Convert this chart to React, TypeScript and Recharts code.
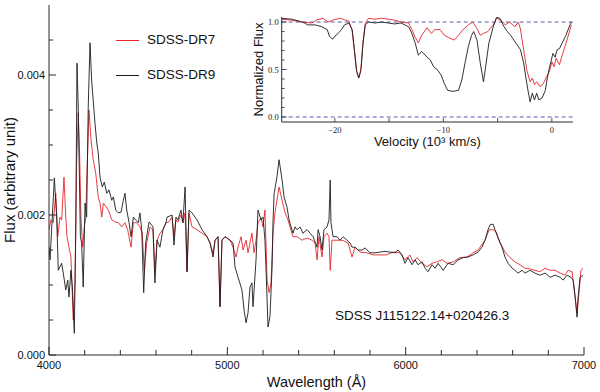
import React from 'react';
import { LineChart, Line, XAxis, YAxis, Label, Legend, ReferenceLine } from 'recharts';

// spectra: [wavelength (Å), flux in units of 1e-3]
const dr7Spectrum: number[][] = [
  [4000, 1.79], [4011, 1.93], [4024, 1.89], [4038, 2.31], [4049, 1.69], [4062, 1.97], [4071, 1.93],
  [4084, 2.54], [4094, 1.97], [4101, 1.69], [4112, 1.54], [4123, 1.4], [4136, 0.5], [4146, 1.03],
  [4155, 2.74], [4164, 3.46], [4172, 2.83], [4179, 1.97], [4189, 1.54], [4198, 1.83], [4206, 1.97],
  [4213, 2.6], [4224, 3.5], [4236, 3.07], [4248, 2.79], [4262, 2.6], [4276, 2.26], [4286, 2.17],
  [4296, 1.97], [4305, 2.17], [4314, 2.14], [4333, 2.07], [4352, 1.93], [4370, 1.9], [4389, 1.89],
  [4408, 1.83], [4426, 1.89], [4441, 1.79], [4460, 1.54], [4473, 1.89], [4492, 1.89], [4510, 1.83],
  [4523, 1.74], [4534, 1.21], [4548, 1.6], [4566, 1.83], [4583, 1.79], [4594, 1.21], [4606, 1.64],
  [4622, 1.74], [4639, 1.79], [4656, 1.89], [4672, 1.9], [4690, 1.97], [4701, 1.7], [4712, 1.93],
  [4723, 1.9], [4740, 2.0], [4751, 1.89], [4763, 2.03], [4774, 1.19], [4785, 2.03], [4802, 1.83],
  [4830, 1.79], [4858, 1.74], [4886, 1.69], [4903, 1.6], [4920, 1.45], [4931, 1.64], [4948, 1.69],
  [4959, 0.69], [4970, 1.64], [4987, 1.69], [5015, 1.64], [5032, 1.54], [5049, 1.4], [5060, 1.54],
  [5077, 1.69], [5088, 1.5], [5105, 1.64], [5116, 1.46], [5127, 1.6], [5138, 1.74], [5150, 1.46],
  [5161, 1.64], [5172, 1.89], [5189, 1.96], [5200, 1.83], [5211, 2.07], [5223, 1.07], [5234, 0.89],
  [5245, 1.03], [5256, 1.74], [5267, 2.03], [5278, 2.21], [5290, 2.4], [5307, 2.21], [5324, 2.03],
  [5340, 1.93], [5368, 1.69], [5391, 1.69], [5419, 1.64], [5447, 1.67], [5475, 1.64], [5492, 1.6],
  [5503, 1.36], [5514, 1.69], [5531, 1.4], [5542, 1.69], [5559, 1.74], [5570, 1.69], [5577, 1.21],
  [5587, 1.64], [5615, 1.64], [5643, 1.64], [5677, 1.6], [5699, 1.4], [5716, 1.54], [5744, 1.47],
  [5783, 1.46], [5817, 1.43], [5856, 1.43], [5893, 1.43], [5929, 1.47], [5968, 1.46], [5996, 1.36],
  [6024, 1.43], [6041, 1.33], [6064, 1.39], [6092, 1.31], [6120, 1.26], [6148, 1.31], [6176, 1.33],
  [6204, 1.36], [6232, 1.31], [6266, 1.33], [6305, 1.39], [6344, 1.4], [6378, 1.46], [6406, 1.5],
  [6434, 1.6], [6445, 1.64], [6468, 1.79], [6490, 1.79], [6507, 1.76], [6529, 1.61], [6557, 1.47],
  [6585, 1.39], [6613, 1.33], [6641, 1.29], [6669, 1.24], [6697, 1.23], [6725, 1.21], [6753, 1.19],
  [6782, 1.24], [6810, 1.21], [6838, 1.21], [6866, 1.17], [6894, 1.14], [6911, 1.21], [6933, 1.19],
  [6944, 0.97], [6961, 0.6], [6972, 0.89], [6983, 1.21], [6995, 1.24],
];

const dr9Spectrum: number[][] = [
  [4000, 1.54], [4006, 1.36], [4030, 2.53], [4043, 1.97], [4052, 1.21], [4071, 1.31], [4080, 1.17],
  [4094, 0.93], [4105, 1.07], [4112, 0.83], [4123, 1.21], [4131, 0.97], [4142, 0.31], [4150, 1.79],
  [4157, 4.17], [4164, 3.54], [4176, 1.69], [4183, 1.6], [4192, 0.97], [4202, 2.17], [4211, 1.97],
  [4220, 3.54], [4230, 4.46], [4239, 3.93], [4258, 3.31], [4268, 3.03], [4276, 2.89], [4286, 2.54],
  [4299, 2.4], [4310, 2.47], [4324, 2.31], [4336, 2.36], [4352, 2.21], [4361, 2.26], [4374, 2.07],
  [4389, 2.03], [4404, 2.04], [4417, 2.21], [4426, 2.31], [4436, 2.07], [4449, 1.89], [4460, 1.69],
  [4473, 1.97], [4486, 1.93], [4501, 1.89], [4510, 2.03], [4520, 1.79], [4531, 0.89], [4542, 1.6],
  [4561, 1.9], [4566, 1.89], [4583, 1.83], [4594, 1.03], [4606, 1.64], [4622, 1.54], [4639, 1.79],
  [4656, 1.89], [4662, 1.97], [4690, 2.0], [4701, 1.57], [4712, 1.97], [4723, 1.93], [4740, 2.07],
  [4751, 1.89], [4763, 2.4], [4774, 1.19], [4785, 2.07], [4802, 2.03], [4830, 1.93], [4858, 1.79],
  [4886, 1.69], [4903, 1.6], [4920, 1.4], [4931, 1.64], [4948, 1.69], [4959, 0.69], [4970, 1.64],
  [4987, 1.69], [5015, 1.64], [5032, 1.6], [5043, 1.26], [5060, 1.11], [5082, 0.93], [5094, 0.64],
  [5105, 0.46], [5116, 0.6], [5127, 0.97], [5138, 1.03], [5144, 0.69], [5161, 1.36], [5172, 2.07],
  [5189, 1.93], [5200, 1.97], [5211, 1.64], [5223, 0.79], [5228, 0.4], [5239, 0.55], [5251, 1.26],
  [5256, 1.9], [5262, 2.3], [5278, 2.54], [5290, 2.79], [5307, 2.5], [5318, 2.26], [5335, 2.11],
  [5346, 1.93], [5368, 1.74], [5380, 1.83], [5391, 1.79], [5408, 1.83], [5424, 1.74], [5447, 1.79],
  [5464, 1.74], [5481, 1.69], [5503, 1.54], [5509, 1.79], [5520, 1.69], [5531, 1.5], [5542, 1.79],
  [5559, 1.83], [5570, 1.93], [5577, 2.5], [5581, 1.89], [5593, 1.69], [5615, 1.69], [5632, 1.64],
  [5649, 1.69], [5671, 1.64], [5688, 1.6], [5699, 1.54], [5716, 1.54], [5733, 1.5], [5755, 1.5],
  [5772, 1.53], [5800, 1.46], [5828, 1.46], [5856, 1.47], [5884, 1.48], [5912, 1.47], [5940, 1.46],
  [5957, 1.5], [5980, 1.43], [5996, 1.31], [6013, 1.39], [6036, 1.29], [6053, 1.36], [6069, 1.29],
  [6092, 1.33], [6109, 1.24], [6125, 1.19], [6148, 1.29], [6165, 1.24], [6182, 1.31], [6210, 1.21],
  [6238, 1.31], [6266, 1.29], [6294, 1.36], [6322, 1.39], [6350, 1.4], [6378, 1.43], [6406, 1.47],
  [6428, 1.54], [6445, 1.64], [6462, 1.79], [6473, 1.86], [6490, 1.87], [6501, 1.79], [6518, 1.67],
  [6540, 1.54], [6557, 1.4], [6574, 1.31], [6597, 1.24], [6613, 1.21], [6630, 1.17], [6653, 1.21],
  [6669, 1.17], [6697, 1.21], [6725, 1.17], [6753, 1.14], [6782, 1.17], [6810, 1.11], [6838, 1.14],
  [6866, 1.11], [6883, 1.07], [6905, 1.14], [6927, 1.11], [6939, 1.07], [6950, 0.83], [6961, 0.54],
  [6967, 0.83], [6978, 1.11], [6995, 1.14],
];

// inset: [velocity (1e3 km/s), normalized flux]
const dr7Velocity: number[][] = [
  [-25, 1.03], [-24, 1.02], [-23, 1.0], [-22.1, 0.99], [-21.7, 1.02], [-21.1, 1.04], [-20.6, 1.0],
  [-20.2, 1.02], [-19.5, 1.04], [-19.0, 1.02], [-18.7, 1.01], [-18.4, 0.9], [-18.2, 0.7], [-18.0, 0.48],
  [-17.8, 0.41], [-17.6, 0.5], [-17.4, 0.8], [-17.2, 0.98], [-16.9, 1.04], [-16.3, 1.03], [-15.7, 1.04],
  [-15.1, 1.03], [-14.5, 1.02], [-13.9, 1.0], [-13.2, 0.99], [-12.9, 0.92], [-12.6, 0.84], [-12.3, 0.78],
  [-12.0, 0.86], [-11.5, 0.94], [-11.1, 0.88], [-10.8, 0.92], [-10.3, 0.92], [-9.9, 0.86], [-9.4, 0.83],
  [-9.0, 0.81], [-8.6, 0.86], [-8.2, 0.92], [-7.7, 0.97], [-7.3, 1.0], [-6.9, 0.93], [-6.6, 0.86],
  [-6.3, 0.88], [-5.9, 0.9], [-5.4, 0.97], [-5.1, 1.04], [-4.7, 1.02], [-4.3, 0.97], [-3.9, 1.0],
  [-3.4, 0.95], [-3.1, 1.0], [-2.9, 0.93], [-2.6, 0.71], [-2.3, 0.49], [-2.0, 0.37], [-1.8, 0.41],
  [-1.6, 0.34], [-1.4, 0.37], [-1.1, 0.32], [-0.8, 0.35], [-0.5, 0.42], [-0.2, 0.49], [0.0, 0.58],
  [0.2, 0.53], [0.4, 0.62], [0.7, 0.55], [0.9, 0.63], [1.2, 0.74], [1.5, 0.85], [1.8, 0.97],
];

const dr9Velocity: number[][] = [
  [-25, 1.04], [-24, 1.03], [-23.3, 1.01], [-22.8, 0.99], [-22.5, 0.97], [-21.8, 0.97], [-21.2, 0.95],
  [-20.7, 0.92], [-20.5, 0.85], [-20.2, 0.82], [-20.0, 0.85], [-19.7, 0.88], [-19.4, 0.92], [-19.1, 0.97],
  [-18.7, 0.99], [-18.4, 0.92], [-18.2, 0.71], [-18.0, 0.49], [-17.8, 0.41], [-17.6, 0.49], [-17.4, 0.78],
  [-17.2, 0.97], [-16.9, 1.0], [-16.3, 0.99], [-15.7, 1.0], [-15.1, 0.99], [-14.5, 0.98], [-13.9, 0.99],
  [-13.2, 0.95], [-12.9, 0.88], [-12.6, 0.78], [-12.3, 0.65], [-12.0, 0.69], [-11.5, 0.63], [-11.2, 0.6],
  [-10.9, 0.53], [-10.5, 0.49], [-10.2, 0.44], [-9.9, 0.35], [-9.6, 0.28], [-9.1, 0.27], [-8.6, 0.28],
  [-8.3, 0.39], [-8.0, 0.57], [-7.7, 0.74], [-7.4, 0.86], [-7.2, 0.9], [-6.9, 0.81], [-6.6, 0.57],
  [-6.3, 0.37], [-6.1, 0.53], [-5.8, 0.78], [-5.4, 0.95], [-5.1, 1.05], [-4.8, 1.04], [-4.4, 0.95],
  [-4.1, 0.9], [-3.8, 0.86], [-3.5, 0.81], [-3.2, 0.76], [-2.9, 0.71], [-2.6, 0.57], [-2.4, 0.42],
  [-2.2, 0.28], [-2.0, 0.16], [-1.8, 0.25], [-1.6, 0.18], [-1.4, 0.25], [-1.2, 0.18], [-0.9, 0.2],
  [-0.6, 0.28], [-0.4, 0.42], [-0.2, 0.53], [0.1, 0.67], [0.3, 0.63], [0.5, 0.71], [0.7, 0.72],
  [1.0, 0.79], [1.3, 0.86], [1.6, 0.95], [1.8, 1.0],
];

const wavelengthTicks = [4000, 4200, 4400, 4600, 4800, 5000, 5200, 5400, 5600, 5800, 6000, 6200, 6400, 6600, 6800, 7000];
const wavelengthLabels = [4000, 5000, 6000, 7000];
const fluxTicks = [0, 0.0005, 0.001, 0.0015, 0.002, 0.0025, 0.003, 0.0035, 0.004, 0.0045];
const fluxLabels = [0, 0.002, 0.004];
const velocityTicks = [-20, -15, -10, -5, 0];
const velocityLabels = [-20, -10, 0];
const normTicks = [0, 0.1, 0.2, 0.3, 0.4, 0.5, 0.6, 0.7, 0.8, 0.9, 1.0];
const normLabels = [0, 0.5, 1.0];

const RED = '#e5262c';
const BLACK = '#1c1c1c';
const INK = '#2a2a2a';
const SANS = '"Liberation Sans", Arial, Helvetica, sans-serif';
const SERIF = '"Liberation Serif", "Times New Roman", serif';

const toRows = (pts: number[][], k: number) => pts.map(([x, y]) => ({ x, y: y * k }));
const has = (list: number[], v: number) => list.some((t) => Math.abs(t - v) < 1e-9);

const mainFont = { fontFamily: SANS, fontSize: 11, fill: '#111' };
const insetFont = { fontFamily: SERIF, fontSize: 8.5, fill: '#222' };

// inward ticks, drawn by hand so they point into the frame
const bottomTick = (p: any) => {
  const major = has(wavelengthLabels, p.payload.value);
  return (
    <g>
      <line x1={p.x} y1={p.y} x2={p.x} y2={p.y - (major ? 8 : 5)} stroke={INK} />
      {major && <text x={p.x} y={p.y + 14} textAnchor="middle" style={mainFont}>{p.payload.value}</text>}
    </g>
  );
};
const topTick = (p: any) => {
  const major = has(wavelengthLabels, p.payload.value);
  return <line x1={p.x} y1={p.y} x2={p.x} y2={p.y + (major ? 8 : 5)} stroke={INK} />;
};
const leftTick = (p: any) => {
  const major = has(fluxLabels, p.payload.value);
  return (
    <g>
      <line x1={p.x} y1={p.y} x2={p.x + (major ? 7 : 4)} y2={p.y} stroke={INK} />
      {major && <text x={p.x - 4} y={p.y + 4} textAnchor="end" style={mainFont}>{p.payload.value.toFixed(3)}</text>}
    </g>
  );
};
const rightTick = (p: any) => {
  const major = has(fluxLabels, p.payload.value);
  return <line x1={p.x} y1={p.y} x2={p.x - (major ? 7 : 4)} y2={p.y} stroke={INK} />;
};

const insetBottomTick = (p: any) => {
  const v = p.payload.value;
  return (
    <g>
      <line x1={p.x} y1={p.y} x2={p.x} y2={p.y - 4} stroke={INK} strokeWidth={0.8} />
      {has(velocityLabels, v) && (
        <text x={p.x} y={p.y + 11} textAnchor="middle" style={insetFont}>{v < 0 ? `\u2212${-v}` : v}</text>
      )}
    </g>
  );
};
const insetTopTick = (p: any) => <line x1={p.x} y1={p.y} x2={p.x} y2={p.y + 4} stroke={INK} strokeWidth={0.8} />;
const insetLeftTick = (p: any) => {
  const major = has(normLabels, p.payload.value);
  return (
    <g>
      <line x1={p.x} y1={p.y} x2={p.x + (major ? 5 : 3)} y2={p.y} stroke={INK} strokeWidth={0.8} />
      {major && <text x={p.x - 3} y={p.y + 3} textAnchor="end" style={insetFont}>{p.payload.value.toFixed(1)}</text>}
    </g>
  );
};
const insetRightTick = (p: any) => {
  const major = has(normLabels, p.payload.value);
  return <line x1={p.x} y1={p.y} x2={p.x - (major ? 5 : 3)} y2={p.y} stroke={INK} strokeWidth={0.8} />;
};

const renderLegend = (props: any) => (
  <div style={{ fontFamily: SANS, fontSize: 13.5, color: '#111' }}>
    {(props.payload || []).map((entry: any) => (
      <div key={entry.value} style={{ display: 'flex', alignItems: 'center', height: 16, marginBottom: 19, lineHeight: '16px' }}>
        <span style={{ width: 23, borderTop: `1px solid ${entry.color}`, marginRight: 8 }} />
        <span>{entry.value}</span>
      </div>
    ))}
  </div>
);

export default function App() {
  const dr7 = toRows(dr7Spectrum, 1e-3);
  const dr9 = toRows(dr9Spectrum, 1e-3);
  const dr7v = toRows(dr7Velocity, 1);
  const dr9v = toRows(dr9Velocity, 1);

  return (
    <div style={{ position: 'absolute', left: 0, top: 0, width: 600, height: 392, background: '#fff' }}>
      <LineChart width={600} height={392} margin={{ top: 5, right: 16, bottom: 0, left: 0 }}>
        <XAxis xAxisId="b" dataKey="x" type="number" domain={[4000, 7000]} ticks={wavelengthTicks} interval={0}
          height={37} tickSize={0} tickMargin={0} tickLine={false} axisLine={{ stroke: INK }} tick={bottomTick} allowDataOverflow>
          <Label value="Wavelength (Å)" position="insideBottom" offset={5}
            style={{ fontFamily: SANS, fontSize: 14.5, fill: '#111' }} />
        </XAxis>
        <XAxis xAxisId="t" orientation="top" type="number" domain={[4000, 7000]} ticks={wavelengthTicks} interval={0}
          height={0} tickSize={0} tickMargin={0} tickLine={false} axisLine={{ stroke: INK }} tick={topTick} />
        <YAxis yAxisId="l" type="number" domain={[0, 0.005]} ticks={fluxTicks} interval={0} width={49}
          tickSize={0} tickMargin={0} tickLine={false} axisLine={{ stroke: INK }} tick={leftTick} allowDataOverflow>
          <Label value="Flux (arbitrary unit)" angle={-90} position="insideLeft" offset={10}
            style={{ textAnchor: 'middle', fontFamily: SANS, fontSize: 15, fill: '#111' }} />
        </YAxis>
        <YAxis yAxisId="r" orientation="right" type="number" domain={[0, 0.005]} ticks={fluxTicks} interval={0} width={0}
          tickSize={0} tickMargin={0} tickLine={false} axisLine={{ stroke: INK }} tick={rightTick} />
        <Legend layout="vertical" align="center" verticalAlign="middle" content={renderLegend}
          wrapperStyle={{ left: 116, top: 32, width: 120 }} />
        <Line xAxisId="b" yAxisId="l" data={dr7} dataKey="y" name="SDSS-DR7" stroke={RED} strokeWidth={0.9}
          dot={false} type="linear" isAnimationActive={false} />
        <Line xAxisId="b" yAxisId="l" data={dr9} dataKey="y" name="SDSS-DR9" stroke={BLACK} strokeWidth={0.9}
          dot={false} type="linear" isAnimationActive={false} />
      </LineChart>

      <div style={{ position: 'absolute', left: 335, top: 309, fontFamily: SANS, fontSize: 13.5, lineHeight: 1, color: '#111', whiteSpace: 'nowrap' }}>
        SDSS J115122.14+020426.3
      </div>

      <div style={{ position: 'absolute', left: 240, top: 12 }}>
        <LineChart width={338} height={140} margin={{ top: 5, right: 5, bottom: 0, left: 0 }}>
          <XAxis xAxisId="b" dataKey="x" type="number" domain={[-24.9, 1.95]} ticks={velocityTicks} interval={0}
            height={30} tickSize={0} tickMargin={0} tickLine={false} axisLine={{ stroke: INK }} tick={insetBottomTick} allowDataOverflow>
            <Label value="Velocity (10³ km/s)" position="insideBottom" offset={6}
              style={{ fontFamily: SANS, fontSize: 13, fill: '#111' }} />
          </XAxis>
          <XAxis xAxisId="t" orientation="top" type="number" domain={[-24.9, 1.95]} ticks={velocityTicks} interval={0}
            height={0} tickSize={0} tickMargin={0} tickLine={false} axisLine={{ stroke: INK }} tick={insetTopTick} />
          <YAxis yAxisId="l" type="number" domain={[-0.053, 1.053]} ticks={normTicks} interval={0} width={41.7}
            tickSize={0} tickMargin={0} tickLine={false} axisLine={{ stroke: INK }} tick={insetLeftTick} allowDataOverflow>
            <Label value="Normalized Flux" angle={-90} position="insideLeft" offset={18}
              style={{ textAnchor: 'middle', fontFamily: SANS, fontSize: 13, fill: '#111' }} />
          </YAxis>
          <YAxis yAxisId="r" orientation="right" type="number" domain={[-0.053, 1.053]} ticks={normTicks} interval={0} width={0}
            tickSize={0} tickMargin={0} tickLine={false} axisLine={{ stroke: INK }} tick={insetRightTick} />
          <ReferenceLine xAxisId="b" yAxisId="l" y={1} stroke="#4a4aa8" strokeDasharray="4 3" strokeWidth={0.9} />
          <ReferenceLine xAxisId="b" yAxisId="l" y={0} stroke="#4a4aa8" strokeDasharray="4 3" strokeWidth={0.9} />
          <Line xAxisId="b" yAxisId="l" data={dr7v} dataKey="y" stroke={RED} strokeWidth={0.9}
            dot={false} type="linear" isAnimationActive={false} />
          <Line xAxisId="b" yAxisId="l" data={dr9v} dataKey="y" stroke={BLACK} strokeWidth={0.9}
            dot={false} type="linear" isAnimationActive={false} />
        </LineChart>
      </div>
    </div>
  );
}
